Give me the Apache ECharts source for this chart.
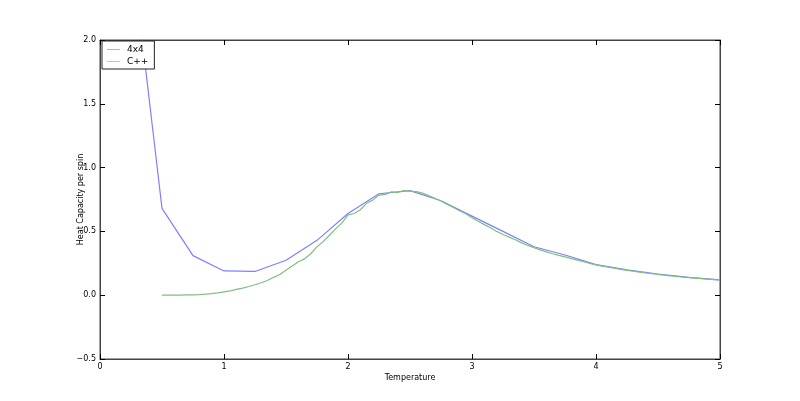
<!DOCTYPE html>
<html><head><meta charset="utf-8">
<script src="https://cdn.jsdelivr.net/npm/echarts@6/dist/echarts.min.js"></script>
<style>html,body{margin:0;padding:0;background:#fff}#c{width:800px;height:401px}</style>
</head><body><div id="c"></div>
<script>
var T4 = [0.25,0.5,0.75,1.0,1.25,1.5,1.75,2.0,2.25,2.5,2.75,3.0,3.25,3.5,3.75,4.0,4.25,4.5,4.75,5.0];
var C4 = [2.75,0.68,0.31,0.19,0.186,0.274,0.43,0.64,0.795,0.82,0.74,0.62,0.50,0.38,0.315,0.24,0.198,0.166,0.14,0.12];
var TC = [];
for (var i = 0; i <= 90; i++) TC.push(+(0.5 + i*0.05).toFixed(2));
var CC = [0.000,0.000,0.000,0.001,0.002,0.003,0.005,0.008,0.012,0.018,
0.026,0.034,0.045,0.055,0.068,0.082,0.098,0.115,0.140,0.162,
0.195,0.228,0.262,0.285,0.325,0.380,0.420,0.470,0.520,0.565,
0.630,0.640,0.670,0.720,0.745,0.785,0.790,0.810,0.805,0.820,
0.815,0.812,0.800,0.780,0.760,0.738,0.712,0.688,0.662,0.638,
0.608,0.580,0.553,0.528,0.500,0.476,0.455,0.435,0.410,0.390,
0.372,0.355,0.340,0.325,0.312,0.300,0.287,0.275,0.262,0.250,
0.238,0.228,0.220,0.211,0.203,0.195,0.188,0.181,0.174,0.168,
0.162,0.157,0.152,0.147,0.142,0.138,0.134,0.130,0.126,0.122,0.118];
var names = ['4x4','C++'];
var xTitle = 'Temperature', yTitle = 'Heat Capacity per spin';

function zip(a,b){return a.map(function(v,i){return [v,b[i]];});}
var chart = echarts.init(document.getElementById('c'));
var font = 'DejaVu Sans';
var tickStyle = {show:true, inside:true, length:5, lineStyle:{color:'#000'}};
var lineCol = '#444';
function fmtY(v){return (v<0?'\u2212':'') + Math.abs(v).toFixed(1);}
chart.setOption({
  animation:false,
  textStyle:{fontFamily:font},
  grid:{left:100,right:80,top:40,bottom:42,show:true,borderColor:lineCol,borderWidth:1},
  legend:{
    orient:'vertical', left:102, top:41, padding:[4,6,3,5],
    borderColor:'#222', borderWidth:1, backgroundColor:'#fff',
    itemWidth:13, itemHeight:10, itemGap:3,
    textStyle:{fontFamily:font,fontSize:9,color:'#000',padding:[0,0,0,2]},
    data:[{name:names[0],icon:'path://M0,4.5H20V5.5H0Z'},{name:names[1],icon:'path://M0,4.5H20V5.5H0Z'}]
  },
  xAxis:[{
    type:'value', min:0, max:5, interval:1,
    name:xTitle, nameLocation:'middle', nameGap:15, nameMoveOverlap:false,
    nameTextStyle:{fontFamily:font,fontSize:8,color:'#000'},
    axisLine:{show:true,onZero:false,lineStyle:{color:lineCol}},
    axisTick:tickStyle, splitLine:{show:false},
    axisLabel:{fontFamily:font,fontSize:8,color:'#000',margin:4}
  },{
    type:'value', min:0, max:5, interval:1, position:'top',
    axisLine:{show:true,onZero:false,lineStyle:{color:lineCol}},
    axisTick:tickStyle, splitLine:{show:false}, axisLabel:{show:false}
  }],
  yAxis:[{
    type:'value', min:-0.5, max:2.0, interval:0.5,
    name:yTitle, nameLocation:'middle', nameGap:15, nameRotate:90, nameMoveOverlap:false,
    nameTextStyle:{fontFamily:font,fontSize:8,color:'#000'},
    axisLine:{show:true,onZero:false,lineStyle:{color:lineCol}},
    axisTick:tickStyle, splitLine:{show:false},
    axisLabel:{fontFamily:font,fontSize:8,color:'#000',margin:4,formatter:fmtY}
  },{
    type:'value', min:-0.5, max:2.0, interval:0.5, position:'right',
    axisLine:{show:true,onZero:false,lineStyle:{color:lineCol}},
    axisTick:tickStyle, splitLine:{show:false}, axisLabel:{show:false}
  }],
  series:[
    {name:names[0], type:'line', data:zip(T4,C4), showSymbol:false, symbol:'none', clip:true,
     lineStyle:{color:'#7f7fff',width:1.2}, itemStyle:{color:'#7f7fff'}},
    {name:names[1], type:'line', data:zip(TC,CC), showSymbol:false, symbol:'none', clip:true,
     lineStyle:{color:'#7fbf7f',width:1.2}, itemStyle:{color:'#7fbf7f'}}
  ]
});
</script></body></html>
